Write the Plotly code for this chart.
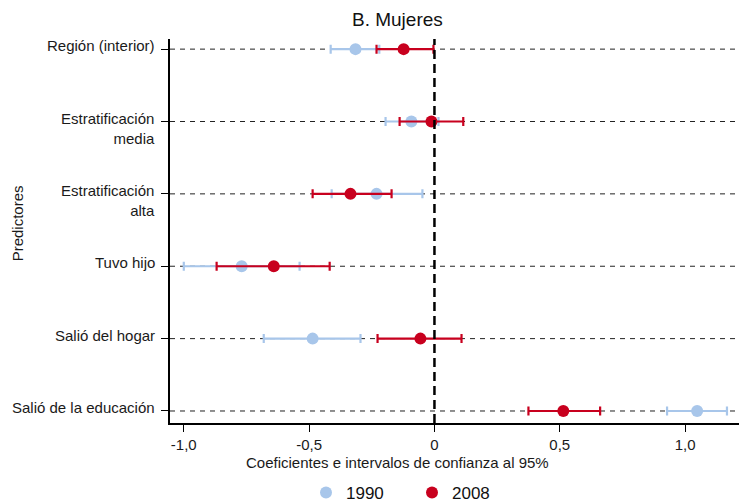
import plotly.graph_objects as go

# Categories, top to bottom
categories = ["Región (interior)", "Estratificación<br>media", "Estratificación<br>alta",
              "Tuvo hijo", "Salió del hogar", "Salió de la educación"]
cat_keys = ["reg", "media", "alta", "hijo", "hogar", "educ"]

# 1990
coef_1990 = [-0.315, -0.092, -0.231, -0.769, -0.486, 1.048]
lo_1990 = [-0.414, -0.195, -0.410, -1.000, -0.681, 0.928]
hi_1990 = [-0.220, 0.016, -0.048, -0.538, -0.295, 1.167]

# 2008
coef_2008 = [-0.123, -0.012, -0.335, -0.641, -0.056, 0.514]
lo_2008 = [-0.231, -0.139, -0.486, -0.869, -0.227, 0.375]
hi_2008 = [-0.004, 0.115, -0.171, -0.418, 0.108, 0.661]

xtick_vals = [-1.0, -0.5, 0, 0.5, 1.0]
xtick_text = ["-1,0", "-0,5", "0", "0,5", "1,0"]

BLUE = "#A8C6EA"
RED = "#C8001E"
FONT = "Liberation Sans, Arial, sans-serif"
TXT = "#1a1a1a"

fig = go.Figure()

def add_series(name, coef, lo, hi, color):
    fig.add_trace(go.Scatter(
        x=coef, y=cat_keys, mode="markers", name=name,
        marker=dict(color=color, size=12, symbol="circle"),
        error_x=dict(type="data", symmetric=False,
                     array=[h - c for h, c in zip(hi, coef)],
                     arrayminus=[c - l for c, l in zip(coef, lo)],
                     color=color, thickness=2.2, width=4.5),
        cliponaxis=False,
    ))

# gridlines (dashed) at each category
for k in cat_keys:
    fig.add_shape(type="line", xref="paper", yref="y", x0=0, x1=1, y0=k, y1=k,
                  line=dict(color="#222222", width=1, dash="5px,5px"), layer="below")

add_series("1990", coef_1990, lo_1990, hi_1990, BLUE)
add_series("2008", coef_2008, lo_2008, hi_2008, RED)

# zero line
fig.add_shape(type="line", xref="x", yref="paper", x0=0, x1=0, y0=0, y1=1,
              line=dict(color="black", width=2.5, dash="9px,5px"), layer="above")

# y labels as annotations (first line aligned with tick)
for k, lab in zip(cat_keys, categories):
    fig.add_annotation(x=0, xref="paper", y=k, yref="y", text=lab, showarrow=False,
                       xanchor="right", yanchor="top", xshift=-13, yshift=14,
                       align="right", font=dict(size=15, color=TXT, family=FONT))

fig.add_annotation(x=(397 - 170) / 569, xref="paper", y=1, yref="paper", yshift=20,
                   text="B. Mujeres", showarrow=False, xanchor="center", yanchor="middle",
                   font=dict(size=19, color="#111111", family=FONT))
fig.add_annotation(x=(397 - 170) / 569, xref="paper", y=0, yref="paper", yshift=-39,
                   text="Coeficientes e intervalos de confianza al 95%", showarrow=False,
                   xanchor="center", yanchor="middle",
                   font=dict(size=15, color=TXT, family=FONT))
fig.add_annotation(x=(17 - 170) / 569, xref="paper", y=0.52, yref="paper",
                   text="Predictores", showarrow=False, textangle=-90,
                   xanchor="center", yanchor="middle",
                   font=dict(size=15, color=TXT, family=FONT))

fig.update_layout(
    width=739, height=503,
    margin=dict(l=170, r=0, t=39, b=80, autoexpand=False),
    paper_bgcolor="white", plot_bgcolor="white",
    font=dict(family=FONT, size=15, color=TXT),
    showlegend=True,
    legend=dict(orientation="h", x=(412 - 170) / 569, xanchor="center",
                y=-(493 - 423) / 384, yanchor="middle",
                font=dict(size=17, color="#111111"), itemwidth=30,
                entrywidth=61, entrywidthmode="pixels",
                tracegroupgap=0, bgcolor="rgba(0,0,0,0)"),
    xaxis=dict(range=[-1.055, 1.215], tickvals=xtick_vals, ticktext=xtick_text,
               showgrid=False, zeroline=False, showline=True, linecolor="black",
               linewidth=1.5, ticks="outside", ticklen=7, tickcolor="black",
               tickfont=dict(size=15, color=TXT)),
    yaxis=dict(type="category", categoryorder="array",
               categoryarray=list(reversed(cat_keys)),
               range=[-0.166, 5.14], showgrid=False, zeroline=False,
               showline=True, linecolor="black", linewidth=1.5,
               ticks="outside", ticklen=7, tickcolor="black", showticklabels=False),
)

fig.write_html("out.html")
